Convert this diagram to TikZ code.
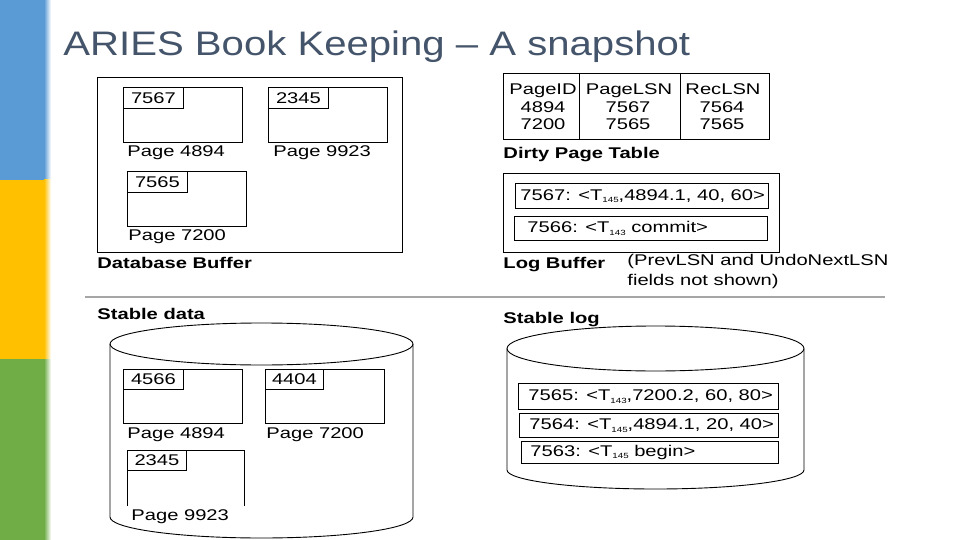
\documentclass[tikz,border=0pt]{standalone}
\usepackage{fontspec}
\setmainfont{Liberation Sans}
\newfontfamily\figfont[FakeStretch=1.3]{Liberation Sans}
\newfontfamily\titlefont[FakeStretch=1.18]{Liberation Sans}
\definecolor{barblue}{HTML}{5B9BD5}
\definecolor{baryellow}{HTML}{FFC000}
\definecolor{bargreen}{HTML}{70AD47}
\definecolor{titlegray}{HTML}{44546A}
\definecolor{rulegray}{HTML}{A6A6A6}
\newcommand{\tsub}[1]{T\raisebox{-2.5pt}{\fontsize{7.5}{8}\selectfont #1}}

\begin{document}
\begin{tikzpicture}[x=1pt,y=-1pt,line width=0.9pt,
                    every node/.style={font=\figfont\fontsize{15.5}{18}\selectfont},
                    page/.style={draw,anchor=north west,minimum width=119,minimum height=55,inner sep=0},
                    lsn/.style={draw,anchor=north west,minimum width=60,minimum height=21,inner sep=0},
                    caption/.style={anchor=base west,inner sep=0},
                    heading/.style={anchor=base west,inner sep=0,font=\figfont\fontsize{15.5}{18}\selectfont\bfseries},
                    logrec/.style={draw,anchor=north west,minimum width=253,minimum height=25,inner sep=0},
                    rectext/.style={anchor=west,inner sep=0}]

  \useasboundingbox (0,0) rectangle (960,540);

  \fill[barblue]   (0,0)   rectangle (44,180);
  \fill[baryellow] (0,180) rectangle (44,359);
  \fill[bargreen]  (0,359) rectangle (44,540);
  \shade[left color=barblue,right color=white]   (44,0)   rectangle (51,180);
  \shade[left color=baryellow,right color=white] (44,180) rectangle (51,359);
  \shade[left color=bargreen,right color=white]  (44,359) rectangle (51,540);

  \node[anchor=base west,inner sep=0,text=titlegray,font=\titlefont\fontsize{34}{40}\selectfont]
       (title) at (63,56) {ARIES Book Keeping \textendash\ A snapshot};

  \node[draw,anchor=north west,minimum width=305,minimum height=175,inner sep=0] (buf) at (97,77) {};
  \node[page]    (b4894)  at (123,87)  {};
  \node[lsn]     (bl4894) at (b4894.north west) {7567};
  \node[caption] (bc4894) at (127,157) {Page 4894};
  \node[page]    (b9923)  at (268,87)  {};
  \node[lsn]     (bl9923) at (b9923.north west) {2345};
  \node[caption] (bc9923) at (273,157) {Page 9923};
  \node[page]    (b7200)  at (127,171) {};
  \node[lsn]     (bl7200) at (b7200.north west) {7565};
  \node[caption] (bc7200) at (128,240) {Page 7200};
  \node[heading] (bufname) at (97,268) {Database Buffer};

  \node[draw,anchor=north west,minimum width=266,minimum height=66,inner sep=0] (dpt) at (503,73) {};
  \draw (579,73) -- (579,139)
        (680,73) -- (680,139);
  \node[anchor=base,inner sep=0] (h1) at (543,95) {PageID};
  \node[anchor=base,inner sep=0] (h2) at (629,95) {PageLSN};
  \node[anchor=base,inner sep=0] (h3) at (723,95) {RecLSN};
  \node[anchor=base,inner sep=0] (r11) at (543,113) {4894};
  \node[anchor=base,inner sep=0] (r12) at (628,113) {7567};
  \node[anchor=base,inner sep=0] (r13) at (722,113) {7564};
  \node[anchor=base,inner sep=0] (r21) at (543,130) {7200};
  \node[anchor=base,inner sep=0] (r22) at (628,130) {7565};
  \node[anchor=base,inner sep=0] (r23) at (722,130) {7565};
  \node[heading] (dptname) at (503,159) {Dirty Page Table};

  \node[draw,anchor=north west,minimum width=276,minimum height=79,inner sep=0] (lbuf) at (503,173) {};
  \node[logrec]  (l7567) at (515,183) {};
  \node[rectext] at ([xshift=5]l7567.west) {7567: <\tsub{145},4894.1, 40, 60>};
  \node[logrec,minimum height=24] (l7566) at (514,216) {};
  \node[rectext] at ([xshift=13]l7566.west) {7566: <\tsub{143} commit>};
  \node[heading] (lbufname) at (503,268) {Log Buffer};
  \node[caption] (note1) at (627,265) {(PrevLSN and UndoNextLSN};
  \node[caption] (note2) at (627,285) {fields not shown)};

  \draw[rulegray,line width=1.6pt] (85,297) -- (885,297);

  \node[heading] (sdname) at (97,319) {Stable data};
  \draw (261.5,344) ellipse [x radius=151.5pt,y radius=21pt];
  \draw (110,344) -- (110,517) arc[start angle=180,end angle=360,x radius=151.5pt,y radius=21pt] -- (413,344);
  \node[page,minimum height=54]  (s4894)  at (123,369) {};
  \node[lsn,minimum height=20]   (sl4894) at (s4894.north west) {4566};
  \node[caption] (sc4894) at (127,438) {Page 4894};
  \node[page,minimum height=54]  (s7200)  at (265,369) {};
  \node[lsn,minimum height=20,minimum width=58] (sl7200) at (s7200.north west) {4404};
  \node[caption] (sc7200) at (266,438) {Page 7200};
  \node[page,draw=none,minimum width=117] (s9923) at (127,450) {};
  \draw (s9923.south west) -- (s9923.north west) -- (s9923.north east) -- (s9923.south east);
  \node[lsn,minimum height=20,minimum width=59] (sl9923) at (s9923.north west) {2345};
  \node[caption] (sc9923) at (131,520) {Page 9923};

  \node[heading] (slname) at (503,323) {Stable log};
  \draw (655.5,348.5) ellipse [x radius=148.5pt,y radius=22.5pt];
  \draw (507,348.5) -- (507,470) arc[start angle=180,end angle=360,x radius=148.5pt,y radius=19pt] -- (804,348.5);
  \node[logrec,minimum width=260,minimum height=26] (s7565) at (518,383) {};
  \node[rectext] at ([xshift=10]s7565.west) {7565: <\tsub{143},7200.2, 60, 80>};
  \node[logrec,minimum width=259,minimum height=24] (s7564) at (519,413) {};
  \node[rectext] at ([xshift=10]s7564.west) {7564: <\tsub{145},4894.1, 20, 40>};
  \node[logrec,minimum width=257,minimum height=22] (s7563) at (521,441) {};
  \node[rectext] at ([xshift=9]s7563.west) {7563: <\tsub{145} begin>};
\end{tikzpicture}
\end{document}
